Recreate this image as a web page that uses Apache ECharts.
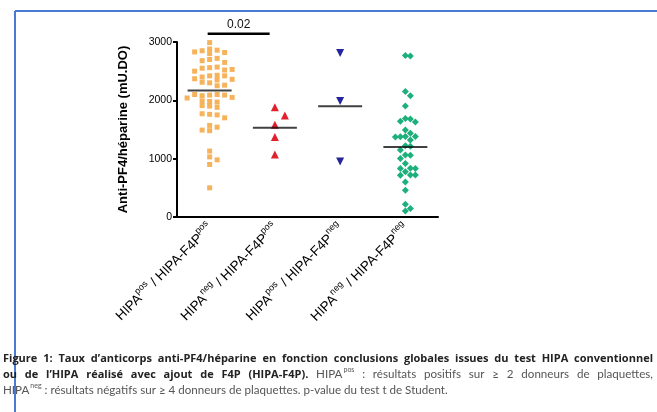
<!DOCTYPE html>
<html><head><meta charset="utf-8">
<script src="https://cdn.jsdelivr.net/npm/echarts@6/dist/echarts.min.js"></script>
<style>html,body{margin:0;padding:0;background:#fff}#c{width:657px;height:412px}</style>
</head><body><div id="c"></div>
<script>
// ---------- data ----------
const categories = ['HIPA^pos / HIPA-F4P^pos', 'HIPA^neg / HIPA-F4P^pos', 'HIPA^pos / HIPA-F4P^neg', 'HIPA^neg / HIPA-F4P^neg'];
const posPos = [2990, 2880, 2860, 2850, 2820, 2830, 2800, 2700, 2720, 2680, 2650, 2560, 2570, 2550, 2520, 2500, 2530,
  2420, 2430, 2400, 2420, 2370, 2360, 2350, 2300, 2310, 2250, 2260, 2090, 2100, 2080, 2090, 2100, 2050, 2040,
  1980, 1970, 1990, 1900, 1910, 1880, 1760, 1750, 1770, 1700, 1570, 1540, 1480, 1490, 1130, 1030, 980, 900, 500];
const negPos = [1880, 1740, 1580, 1370, 1070];
const posNeg = [2810, 1990, 950];
const negNeg = [2770, 2760, 2150, 2080, 1905, 1690, 1680, 1640, 1630, 1490, 1435, 1380, 1375, 1378, 1372, 1320,
  1220, 1215, 1150, 1065, 1060, 1005, 918, 835, 830, 832, 776, 720, 716, 718, 602, 460, 218, 144, 103];
const groupMeans = [2170, 1530, 1900, 1200];
const yTicks = [0, 1000, 2000, 3000];
const pValueLabel = '0.02';
const pValueLevel = 3140;
const yAxisName = 'Anti-PF4/héparine (mU.DO)';
// caption lines: '**' toggles bold, '^x' = superscript word suffix
const captionLines = [
  {text: '**Figure 1: Taux d\u2019anticorps anti-PF4/héparine en fonction conclusions globales issues du test HIPA conventionnel', justify: true},
  {text: '**ou de l\u2019HIPA réalisé avec ajout de F4P (HIPA-F4P).** HIPA^pos : résultats positifs sur \u2265 2 donneurs de plaquettes,', justify: true},
  {text: 'HIPA^neg : résultats négatifs sur \u2265 4 donneurs de plaquettes. p-value du test t de Student.', justify: false}
];

const groups = [posPos, negPos, posNeg, negNeg];
const groupStyle = [
  {symbol: 'rect', size: 5, color: '#f5a640', rot: 0, step: 7.5, dy: 4.4},
  {symbol: 'triangle', size: 8, color: '#e0202c', rot: 0, step: 10, dy: 9},
  {symbol: 'triangle', size: 8, color: '#24249c', rot: 180, step: 10, dy: 7},
  {symbol: 'diamond', size: 7, color: '#1db07c', rot: 0, step: 5, dy: 5.5}
];

const chart = echarts.init(document.getElementById('c'), null, {renderer: 'canvas'});

function catLabel(s) {
  return s.split(/(\^\w+)/).filter(Boolean).map(p => p[0] === '^' ? '{s|' + p.slice(1) + '}' : '{m|' + p + '}').join('');
}

const base = {
  animation: false,
  backgroundColor: '#fff',
  grid: {left: 177, right: 219, top: 42, bottom: 195, containLabel: false},
  xAxis: [{
    type: 'category', data: categories, boundaryGap: true,
    axisLine: {lineStyle: {color: '#000', width: 2}},
    axisTick: {alignWithLabel: true, length: 4, lineStyle: {color: '#000', width: 2}},
    axisLabel: {
      rotate: 45, margin: 8, color: '#000', formatter: v => catLabel(v),
      rich: {
        m: {fontFamily: 'Arial, Liberation Sans', fontSize: 13.5, color: '#000', lineHeight: 17, verticalAlign: 'bottom'},
        s: {fontFamily: 'Arial, Liberation Sans', fontSize: 9, color: '#000', lineHeight: 17, verticalAlign: 'top', padding: [0, 0, 7, 0]}
      }
    },
    splitLine: {show: false}
  }, {
    type: 'value', min: -0.5, max: 3.5, show: false, position: 'bottom'
  }],
  yAxis: {
    type: 'value', min: yTicks[0], max: yTicks[yTicks.length - 1], interval: 1000,
    name: yAxisName, nameLocation: 'middle', nameGap: 47, nameRotate: 90,
    nameTextStyle: {fontFamily: 'Arial, Liberation Sans', fontWeight: 'bold', fontSize: 13, color: '#000'},
    axisLine: {show: true, onZero: false, lineStyle: {color: '#000', width: 2}},
    axisTick: {show: true, length: 4, lineStyle: {color: '#000', width: 2}},
    axisLabel: {fontFamily: 'Arial, Liberation Sans', fontSize: 10.5, color: '#000', margin: 5, formatter: v => String(v)},
    splitLine: {show: false}
  },
  series: []
};
chart.setOption(base);

const band = chart.convertToPixel({xAxisIndex: 1}, 1) - chart.convertToPixel({xAxisIndex: 1}, 0);
function ypx(v) { return chart.convertToPixel({yAxisIndex: 0}, v); }

function swarm(values, step, dy) {
  const placed = [];
  return values.map(v => {
    const y = ypx(v);
    for (let k = 0; k < 60; k++) {
      const off = k === 0 ? 0 : (k % 2 ? Math.ceil(k / 2) : -k / 2) * step;
      if (!placed.some(p => Math.abs(p.x - off) < step * 0.99 && Math.abs(p.y - y) < dy)) {
        placed.push({x: off, y});
        return off;
      }
    }
    return 0;
  });
}

const series = [];
groups.forEach((vals, i) => {
  const st = groupStyle[i];
  const offs = swarm(vals, st.step, st.dy);
  series.push({
    type: 'scatter', xAxisIndex: 1, symbol: st.symbol, symbolSize: st.size, symbolRotate: st.rot,
    itemStyle: {color: st.color, opacity: i === 0 ? 0.85 : 1},
    data: vals.map((v, j) => [i + offs[j] / band, v]), z: 2
  });
});
series.push({
  type: 'scatter', xAxisIndex: 1, symbol: 'rect', symbolSize: [44, 2], z: 5,
  itemStyle: {color: '#111'},
  data: groupMeans.map((m, i) => [i, m])
});
series.push({
  type: 'line', xAxisIndex: 1, clip: false, symbol: 'none', z: 5,
  lineStyle: {color: '#000', width: 2.5},
  data: [[-0.03, pValueLevel], [0.92, pValueLevel]]
});

// ---------- caption layout (justified words) ----------
const normFont = 'Lato, "Open Sans", sans-serif';
const boldFont = '"Open Sans", Lato, sans-serif';
const FS = 11.6, BFS = 11, SUPFS = 7;
const ctx = document.createElement('canvas').getContext('2d');
function fontOf(bold, size) { return bold ? 'bold ' + (size === FS ? BFS : size) + 'px ' + boldFont : size + 'px ' + normFont; }
function measure(t, f) { ctx.font = f; return ctx.measureText(t).width; }

const capGraphics = [];
const capX0 = 3, capX1 = 653, capY0 = 350, capDY = 16;
captionLines.forEach((line, li) => {
  let bold = false;
  const words = [];
  line.text.split(' ').forEach(raw => {
    let w = raw;
    let wb = bold;
    if (w.startsWith('**')) { bold = !bold; wb = bold; w = w.slice(2); }
    let endToggle = false;
    if (w.endsWith('**')) { w = w.slice(0, -2); endToggle = true; }
    const parts = w.split('^');
    const main = parts[0], sup = parts[1] || '';
    const width = measure(main, fontOf(wb, FS)) + (sup ? measure(sup, fontOf(wb, SUPFS)) + 1 : 0);
    words.push({main, sup, bold: wb, width});
    if (endToggle) bold = !bold;
  });
  const total = words.reduce((a, w) => a + w.width, 0);
  const spaceW = measure(' ', fontOf(false, FS));
  const gap = line.justify ? (capX1 - capX0 - total) / (words.length - 1) : spaceW;
  let x = capX0;
  words.forEach(w => {
    const col = w.bold ? '#222' : '#555';
    capGraphics.push({
      type: 'text', x: x, y: capY0 + li * capDY,
      style: {
        text: '{n|' + w.main + '}' + (w.sup ? '{s|' + w.sup + '}' : ''),
        rich: {
          n: {font: fontOf(w.bold, FS), fill: col, lineHeight: 14, verticalAlign: 'bottom'},
          s: {font: fontOf(w.bold, SUPFS), fill: col, lineHeight: 14, verticalAlign: 'top', padding: [0, 0, 5, 1]}
        }
      }
    });
    x += w.width + gap;
  });
});

const pPos = chart.convertToPixel({xAxisIndex: 1, yAxisIndex: 0}, [0.445, pValueLevel]);
chart.setOption({
  series,
  graphic: [
    {type: 'line', shape: {x1: 15, y1: 11, x2: 657, y2: 11}, style: {stroke: '#4a7bd3', lineWidth: 2}},
    {type: 'line', shape: {x1: 15, y1: 11, x2: 15, y2: 412}, style: {stroke: '#4a7bd3', lineWidth: 2}},
    {type: 'text', x: pPos[0], y: pPos[1] - 3, style: {text: pValueLabel, font: '12px Arial, Liberation Sans', fill: '#111',
      textAlign: 'center', textVerticalAlign: 'bottom'}}
  ].concat(capGraphics)
});
</script></body></html>
